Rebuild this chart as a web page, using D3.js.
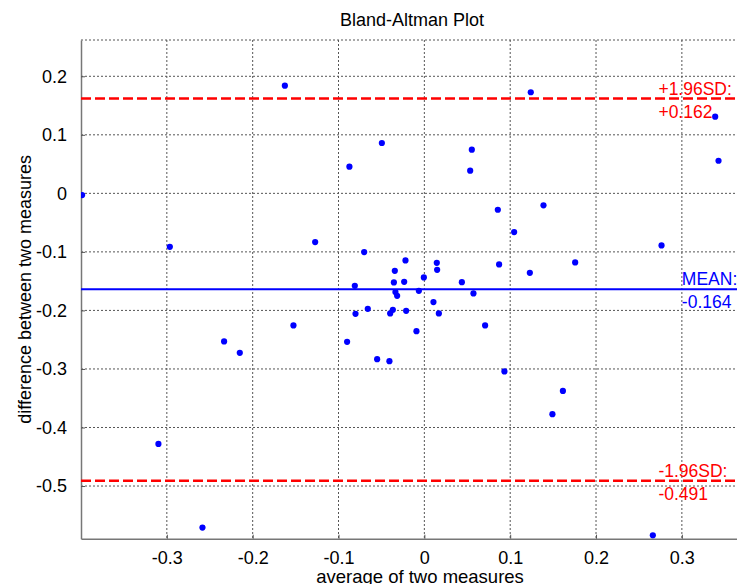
<!DOCTYPE html>
<html>
<head>
<meta charset="utf-8">
<script src="https://cdn.jsdelivr.net/npm/d3@7"></script>
<style>
  body { margin: 0; background: #fff; }
  svg { display: block; font-family: "Liberation Sans", Arial, sans-serif; }
</style>
</head>
<body>
<div class="grafico"></div>
<script>
/* datos */
const avgValues = [
  -0.1625, -0.0873, -0.3987, -0.0495, 0.0553, 0.0534, 0.124, 0.3388, 0.3427,
  -0.2965, -0.1272, -0.0701, -0.081, -0.0802, -0.0659, -0.1525, -0.2333, -0.215, -0.09,
  0.0856, 0.1388, 0.1046, 0.2763, 0.1757, 0.1229, 0.0871, 0.0437, 0.0572, 0.0145,
  0.0149, -0.0006, -0.0064, 0.0106, 0.0169, -0.022, -0.0344, -0.0355, -0.0235, -0.0337,
  -0.0317, -0.0367, -0.0398, -0.0212, -0.0092, 0.0708, -0.055, -0.0407, 0.0933, 0.1614,
  -0.3098, -0.2585, 0.1492, 0.2662
];
const diffValues = [
  0.184, 0.0455, -0.003, 0.086, 0.0746, 0.0387, 0.1727, 0.131, 0.0557,
  -0.0913, -0.0833, -0.1004, -0.158, -0.2058, -0.1973, -0.2257, -0.253, -0.2725, -0.2537,
  -0.028, -0.0205, -0.0662, -0.089, -0.118, -0.1357, -0.1214, -0.1517, -0.171, -0.1186,
  -0.1306, -0.1436, -0.1665, -0.1858, -0.2052, -0.1146, -0.1323, -0.1522, -0.1511, -0.1687,
  -0.175, -0.199, -0.2052, -0.2007, -0.2354, -0.2257, -0.2833, -0.2867, -0.3043, -0.3375,
  -0.4281, -0.571, -0.3773, -0.5842
];
const meanDiff = -0.164;
const upperLoA = 0.162;
const lowerLoA = -0.491;
const xTicks = [-0.3, -0.2, -0.1, 0, 0.1, 0.2, 0.3];
const yTicks = [-0.5, -0.4, -0.3, -0.2, -0.1, 0, 0.1, 0.2];

const w = 737;
const h = 584;

const x = d3.scaleLinear().domain([-0.4, 0.4]).range([81, 767.7]);
const y = d3.scaleLinear().domain([-0.59, 0.262]).range([538.7, 40]);
const fmt = d => d === 0 ? '0' : String(+d.toFixed(1));

const svg = d3.select('.grafico')
  .append('svg')
  .attr('width', w)
  .attr('height', h);

svg.append('clipPath').attr('id', 'area')
  .append('rect')
  .attr('x', x(-0.4)).attr('y', y(0.262))
  .attr('width', x(0.4) - x(-0.4)).attr('height', y(-0.59) - y(0.262));

/* rejilla punteada */
const grid = svg.append('g')
  .attr('stroke', '#555')
  .attr('stroke-width', 1)
  .attr('stroke-dasharray', '2,2');

grid.selectAll('line.gx')
  .data(xTicks)
  .join('line')
  .attr('class', 'gx')
  .attr('x1', d => x(d)).attr('x2', d => x(d))
  .attr('y1', y(0.262)).attr('y2', y(-0.59));

grid.selectAll('line.gy')
  .data(yTicks)
  .join('line')
  .attr('class', 'gy')
  .attr('x1', x(-0.4)).attr('x2', x(0.4))
  .attr('y1', d => y(d)).attr('y2', d => y(d));

/* borde superior */
grid.append('line')
  .attr('x1', x(-0.4)).attr('x2', x(0.4))
  .attr('y1', y(0.262)).attr('y2', y(0.262));

/* ejes */
const xAxis = svg.append('g')
  .attr('transform', `translate(0,${y(-0.59)})`)
  .call(d3.axisBottom(x).tickValues(xTicks).tickFormat(fmt).tickSizeInner(-4).tickSizeOuter(0).tickPadding(13));

const yAxis = svg.append('g')
  .attr('transform', `translate(${x(-0.4)},0)`)
  .call(d3.axisLeft(y).tickValues(yTicks).tickFormat(fmt).tickSizeInner(-4).tickSizeOuter(0).tickPadding(14));

[xAxis, yAxis].forEach(a => {
  a.attr('font-size', null).attr('font-family', null);
  a.select('.domain').attr('stroke', '#777').attr('stroke-width', 1.5);
  a.selectAll('.tick line').attr('stroke', '#555');
  a.selectAll('.tick text')
    .attr('fill', '#000')
    .style('font-size', '18px');
});

/* lineas de media y limites */
const lines = svg.append('g').attr('clip-path', 'url(#area)');

lines.append('line')
  .attr('x1', x(-0.4)).attr('x2', x(0.4))
  .attr('y1', y(upperLoA)).attr('y2', y(upperLoA))
  .attr('stroke', '#ff0000').attr('stroke-width', 2.5)
  .attr('stroke-dasharray', '10,4');

lines.append('line')
  .attr('x1', x(-0.4)).attr('x2', x(0.4))
  .attr('y1', y(lowerLoA)).attr('y2', y(lowerLoA))
  .attr('stroke', '#ff0000').attr('stroke-width', 2.5)
  .attr('stroke-dasharray', '10,4');

lines.append('line')
  .attr('x1', x(-0.4)).attr('x2', x(0.4))
  .attr('y1', y(meanDiff)).attr('y2', y(meanDiff))
  .attr('stroke', '#0000ff').attr('stroke-width', 2);

/* puntos */
const points = d3.zip(avgValues, diffValues);
svg.append('g')
  .attr('clip-path', 'url(#area)')
  .selectAll('circle')
  .data(points)
  .join('circle')
  .attr('cx', d => x(d[0]))
  .attr('cy', d => y(d[1]))
  .attr('r', 3.1)
  .attr('fill', '#0000ff');

/* etiquetas de lineas */
const lineLabel = (xv, yv, t1, t2, color) => {
  const t = svg.append('text')
    .attr('fill', color)
    .style('font-size', '17.5px');
  t.append('tspan').attr('x', x(xv)).attr('y', y(yv) - 4).text(t1);
  t.append('tspan').attr('x', x(xv)).attr('y', y(yv) + 19).text(t2);
};
lineLabel(0.2727, upperLoA, '+1.96SD:', '+' + upperLoA.toFixed(3), '#ff0000');
lineLabel(0.2727, lowerLoA, '-1.96SD:', lowerLoA.toFixed(3), '#ff0000');
lineLabel(0.3, meanDiff, 'MEAN:', meanDiff.toFixed(3), '#0000ff');

/* titulos */
svg.append('text')
  .attr('x', 412).attr('y', 26)
  .attr('text-anchor', 'middle')
  .style('font-size', '18px')
  .attr('fill', '#000')
  .text('Bland-Altman Plot');

svg.append('text')
  .attr('x', 420).attr('y', 583)
  .attr('text-anchor', 'middle')
  .style('font-size', '18.5px')
  .attr('fill', '#000')
  .text('average of two measures');

svg.append('text')
  .attr('transform', `translate(31,${(y(0.262) + y(-0.59)) / 2}) rotate(-90)`)
  .attr('text-anchor', 'middle')
  .style('font-size', '18px')
  .attr('fill', '#000')
  .text('difference between two measures');
</script>
</body>
</html>
